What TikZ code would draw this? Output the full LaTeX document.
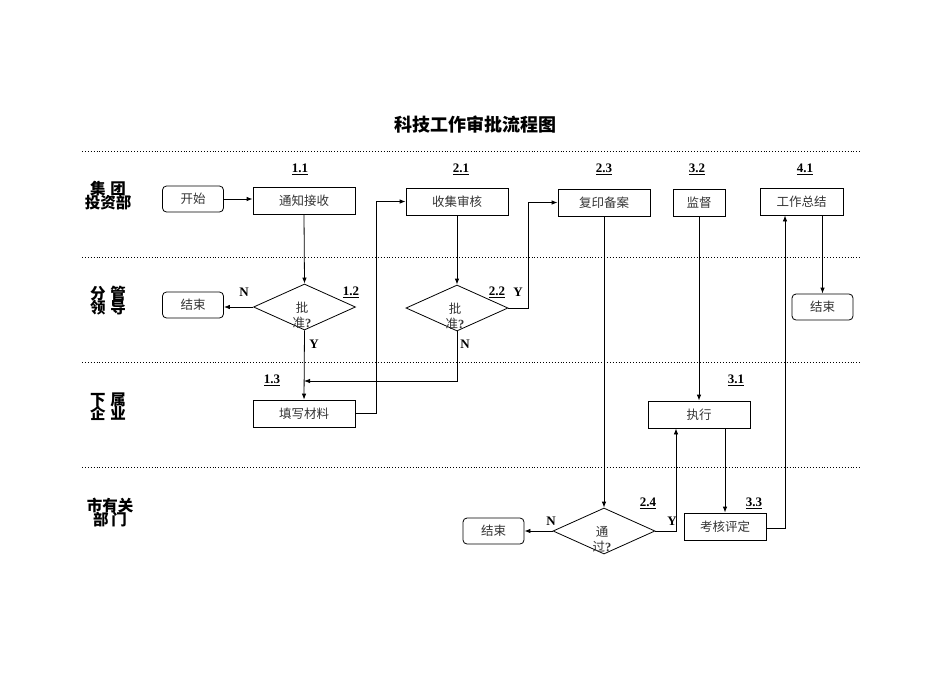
\documentclass[tikz,border=0pt]{standalone}
\usepackage{fontspec}
\setmainfont{Liberation Serif}
\newfontfamily\cjk{Noto Sans CJK SC}
\usetikzlibrary{shapes.geometric,arrows.meta}
\begin{document}
\begin{tikzpicture}[x=1pt,y=-1pt,
  every node/.style={inner sep=0pt},
  box/.style={draw, line width=0.8pt, rectangle, minimum height=27pt, font=\cjk\fontsize{12.5}{14}\selectfont, text=black!80},
  rbox/.style={box, rounded corners=4pt, minimum width=61pt, minimum height=26pt},
  dia/.style={draw, line width=0.8pt, diamond, minimum width=102pt, minimum height=46pt},
  diatext/.style={font=\cjk\fontsize{12.5}{15}\selectfont, align=center, text=black!80},
  num/.style={font=\bfseries\fontsize{13}{15}\selectfont},
  yn/.style={font=\bfseries\fontsize{13}{15}\selectfont},
  lane/.style={font=\cjk\bfseries\fontsize{15.5}{15}\selectfont, align=center},
  sep/.style={dotted, line width=0.9pt},
  conn/.style={line width=0.8pt, -{Latex[length=6pt,width=4.5pt]}},
  plain/.style={line width=0.8pt}
]
\useasboundingbox (0,0) rectangle (950,672);
% title
\node (title) at (475,125) {\cjk\bfseries\fontsize{18}{20}\selectfont 科技工作审批流程图};
% separators
\coordinate (s1a) at (82,151); \coordinate (s1b) at (862,151);
\coordinate (s2a) at (82,257); \coordinate (s2b) at (862,257);
\coordinate (s3a) at (82,362); \coordinate (s3b) at (862,362);
\coordinate (s4a) at (82,467); \coordinate (s4b) at (862,467);
\draw[sep] (s1a) -- (s1b);
\draw[sep] (s2a) -- (s2b);
\draw[sep] (s3a) -- (s3b);
\draw[sep] (s4a) -- (s4b);
% lane labels
\node[lane] (L1) at (108,196) {集\hspace{5pt}团\\[-1pt]投资部};
\node[lane] (L2) at (108,301) {分\hspace{5pt}管\\[-1pt]领\hspace{5pt}导};
\node[lane] (L3) at (108,407) {下\hspace{5pt}属\\[-1pt]企\hspace{5pt}业};
\node[lane] (L4) at (110,513) {市有关\\[-1pt]部\hspace{3pt}门};
% boxes
\node[rbox] (start) at (193,199) {开始};
\node[box, minimum width=102pt] (b11) at (304,200.5) {通知接收};
\node[box, minimum width=102pt] (b21) at (457,201.5) {收集审核};
\node[box, minimum width=92pt] (b23) at (604,202.5) {复印备案};
\node[box, minimum width=52pt] (b32) at (699,202.5) {监督};
\node[box, minimum width=83pt] (b41) at (801.5,201.5) {工作总结};
\node[rbox] (end1) at (193,305) {结束};
\node[rbox] (end2) at (822.5,307) {结束};
\node[box, minimum width=102pt] (b13) at (304,413.5) {填写材料};
\node[box, minimum width=102pt] (b31) at (699,414.5) {执行};
\node[rbox] (end3) at (493.5,531) {结束};
\node[box, minimum width=82pt] (b33) at (725,526.5) {考核评定};
% diamonds
\node[dia] (d12) at (304.5,307) {};
\node[diatext] (d12t) at (302,315) {批\\准{\rmfamily\bfseries ?}};
\node[dia] (d22) at (457,308) {};
\node[diatext] (d22t) at (455,316) {批\\准{\rmfamily\bfseries ?}};
\node[dia] (d24) at (604,531) {};
\node[diatext] (d24t) at (602,539) {通\\过{\rmfamily\bfseries ?}};
% numbers
\node[num] (n11) at (300,169) {\underline{1.1}};
\node[num] (n21) at (461,169) {\underline{2.1}};
\node[num] (n23) at (604,169) {\underline{2.3}};
\node[num] (n32) at (697,169) {\underline{3.2}};
\node[num] (n41) at (805,169) {\underline{4.1}};
\node[num] (n12) at (351,292) {\underline{1.2}};
\node[num] (n22) at (497,292) {\underline{2.2}};
\node[num] (n13) at (272,380) {\underline{1.3}};
\node[num] (n31) at (736,380) {\underline{3.1}};
\node[num] (n24) at (648,503) {\underline{2.4}};
\node[num] (n33) at (754,503) {\underline{3.3}};
% Y/N
\node[yn] (N12) at (244,292) {N};
\node[yn] (Y12) at (314,344) {Y};
\node[yn] (Y22) at (518,292) {Y};
\node[yn] (N22) at (465,344) {N};
\node[yn] (N24) at (551,521) {N};
\node[yn] (Y24) at (672,521) {Y};
% connectors
\draw[conn] (start.east) -- (b11.west |- start.east);
\draw[conn] (b11.south) -- (d12.north);
\draw[conn] (d12.west) -- (end1.east |- d12.west);
\draw[conn] (d12.south) -- (b13.north);
\coordinate (j13) at (304,381);
\draw[conn] (d22.south) |- (j13);
\coordinate (k1) at (376,413.5);
\draw[conn] (b13.east) -- (k1) |- (b21.west);
\draw[conn] (b21.south) -- (d22.north);
\coordinate (k2) at (528,308);
\draw[conn] (d22.east) -- (k2) |- (b23.west);
\draw[conn] (b23.south) -- (d24.north);
\draw[conn] (d24.west) -- (end3.east |- d24.west);
\coordinate (k3) at (676,531);
\draw[conn] (d24.east) -- (k3) -- (b31.south -| k3);
\draw[conn] (b32.south) -- (b31.north);
\draw[conn] (b31.south -| b33.north) -- (b33.north);
\coordinate (k4) at (785,528);
\draw[conn] (b33.east |- k4) -- (k4) -- (b41.south -| k4);
\draw[conn] (b41.south -| end2.north) -- (end2.north);
\end{tikzpicture}
\end{document}
